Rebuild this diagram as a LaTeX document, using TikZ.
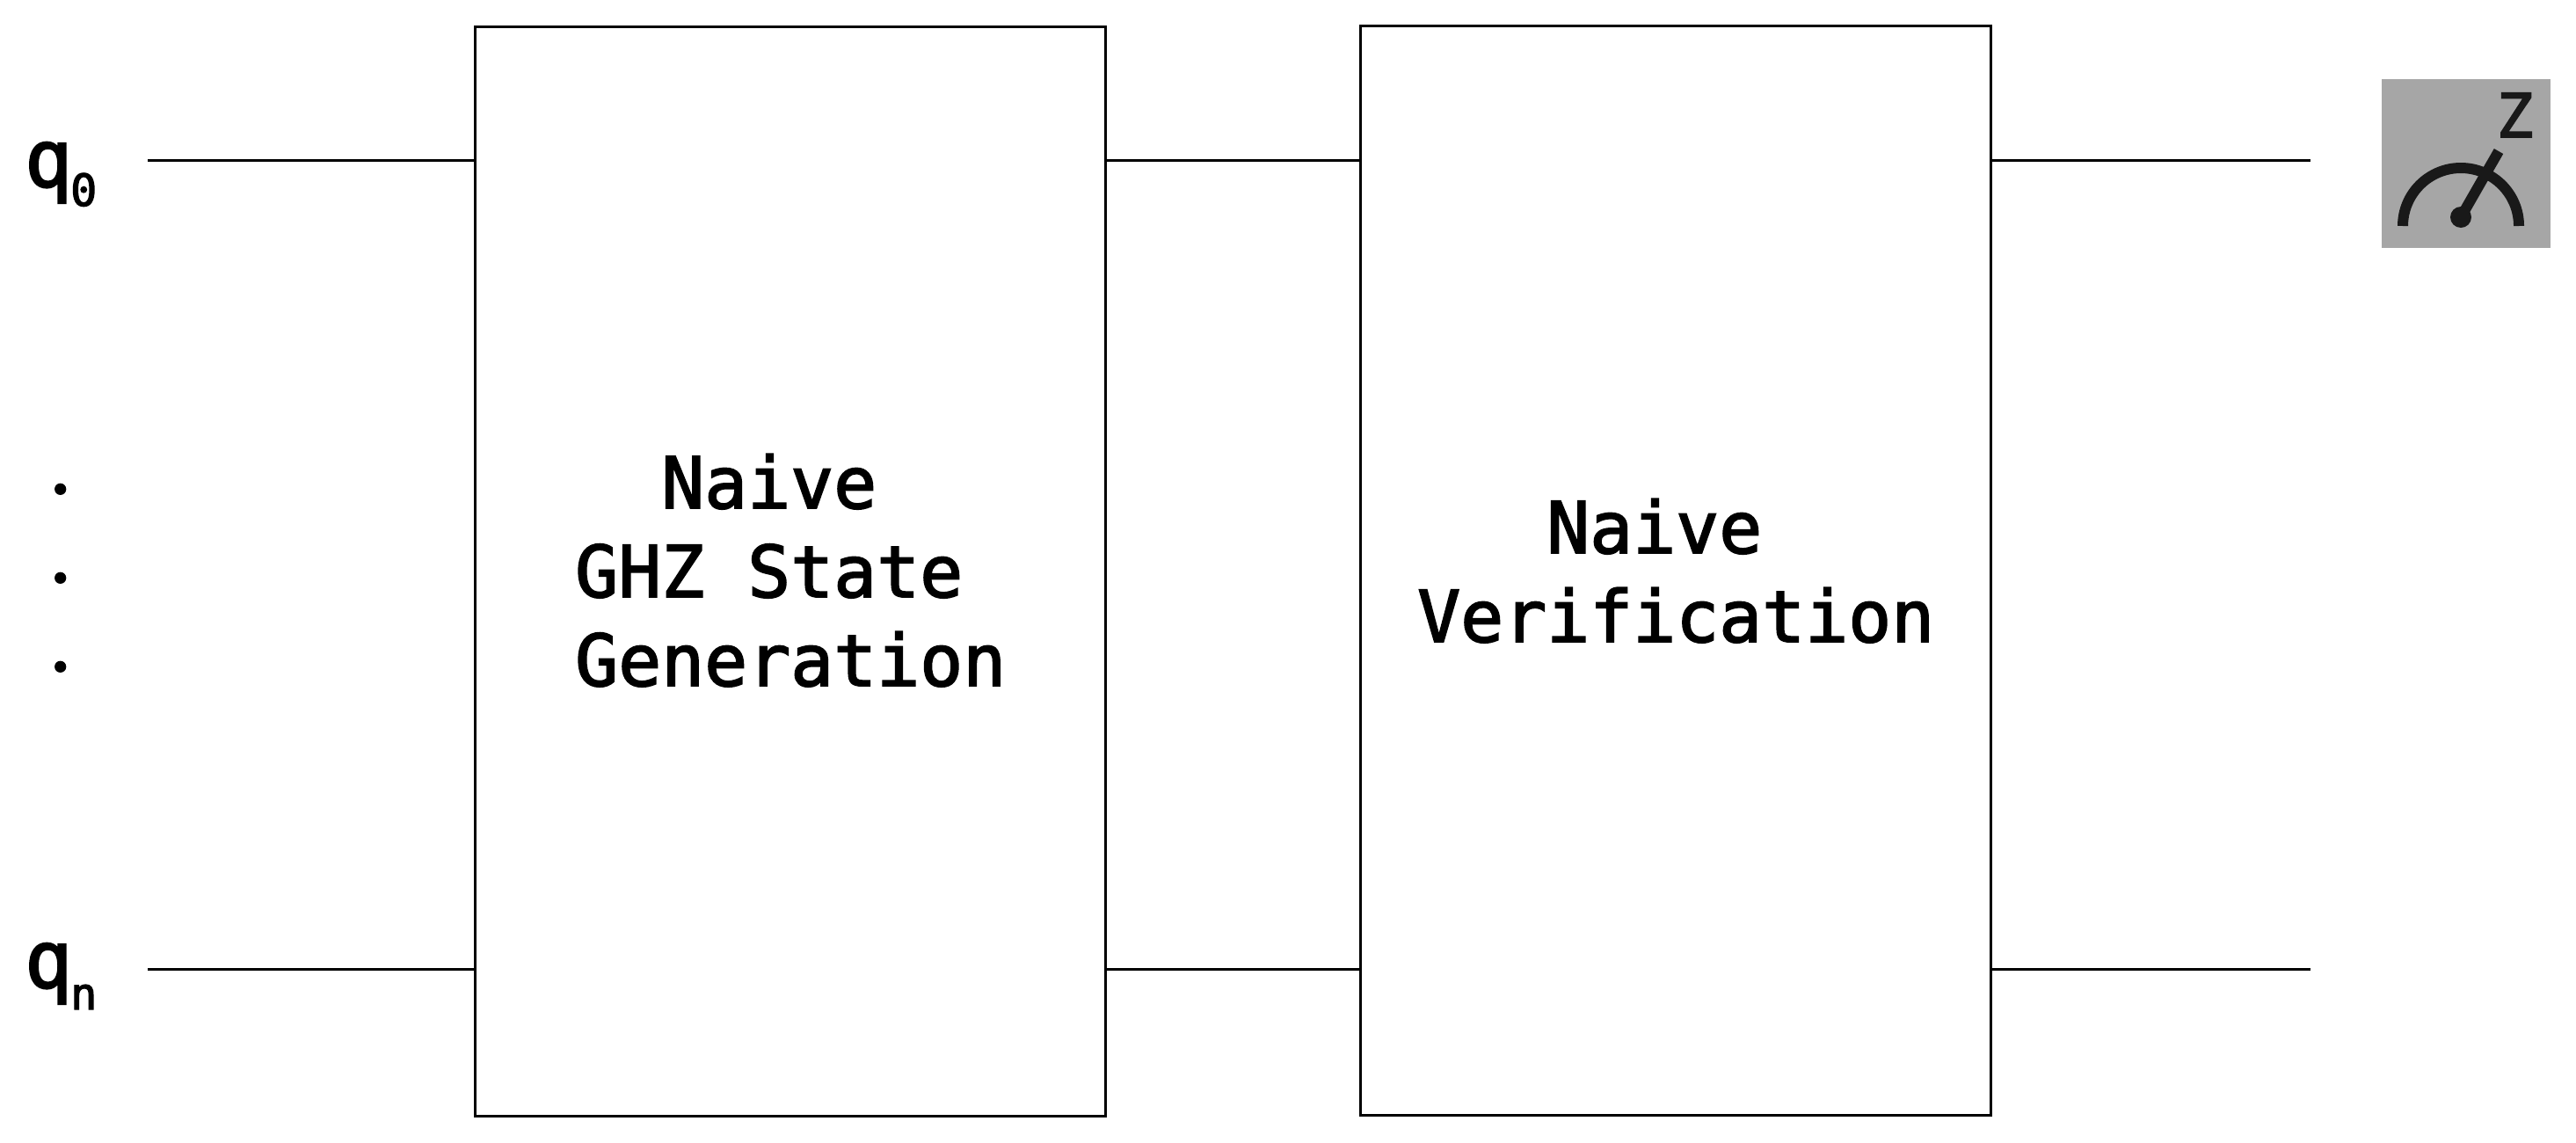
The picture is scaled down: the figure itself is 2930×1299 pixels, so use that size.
\documentclass[tikz,border=0pt]{standalone}
\usepackage{fontspec}
\newfontfamily\monof[FakeBold=2.2]{DejaVu Sans Mono}
\newfontfamily\monoh[FakeBold=2.6]{DejaVu Sans Mono}
\newfontfamily\dotf[FakeBold=3]{Lato}
\tikzset{
  x=1pt,y=-1pt,
  wire/.style={line width=3pt,black},
  blockbox/.style={draw=black,fill=white,line width=3pt,inner sep=0pt,outer sep=0pt,anchor=north west,minimum width=717.5pt,minimum height=1239pt},
  blocktext/.style={inner sep=0pt,anchor=north west,align=left,font=\monof\fontsize{81.4}{101}\selectfont},
  qlabel/.style={inner sep=0pt,anchor=base west,font=\monoh\fontsize{90}{100}\selectfont},
  qsub/.style={inner sep=0pt,anchor=base west,font=\monoh\fontsize{50}{60}\selectfont},
  dotlabel/.style={inner sep=0pt,anchor=base,font=\dotf\fontsize{85}{95}\selectfont},
  iconink/.style={line width=12pt,color=black!90}
}
\begin{document}
\begin{tikzpicture}
\useasboundingbox (0,0) rectangle (2930,1299);
\node[blockbox] (gen) at (540,30.5) {};
\node[blockbox] (ver) at (1547,29.5) {};
\coordinate (top0) at (168,182);
\coordinate (botn) at (168,1102.7);
\coordinate (topend) at (2628,182);
\coordinate (botend) at (2628,1102.7);
\draw[wire] (top0) -- (top0 -| gen.west);
\draw[wire] (top0 -| gen.east) -- (top0 -| ver.west);
\draw[wire] (top0 -| ver.east) -- (topend);
\draw[wire] (botn) -- (botn -| gen.west);
\draw[wire] (botn -| gen.east) -- (botn -| ver.west);
\draw[wire] (botn -| ver.east) -- (botend);
\node[blocktext] (gentext) at (654,516) {\phantom{XX}Naive\\GHZ State\\Generation};
\node[blocktext] (vertext) at (1612,567) {\phantom{XXX}Naive\\Verification};
\node[qlabel] (q0) at (28,212) {q};
\node[qsub] (q0s) at (80,234) {0};
\node[qlabel] (qn) at (28,1123) {q};
\node[qsub] (qns) at (80,1148) {n};
\node[dotlabel] (d1) at (68.7,561) {.};
\node[dotlabel] (d2) at (68.7,662) {.};
\node[dotlabel] (d3) at (68.7,763) {.};
\fill[black!35] (2709,90) rectangle (2901,282);
\draw[iconink] (2733,257) arc[start angle=180,end angle=360,radius=66];
\draw[iconink] (2799,247) -- (2842,172);
\fill[black!90] (2799,247) circle[radius=12];
\node[inner sep=0pt,anchor=base,text=black!90,font=\monoh\fontsize{69}{80}\selectfont] (z) at (2860.5,156) {Z};
\end{tikzpicture}
\end{document}
